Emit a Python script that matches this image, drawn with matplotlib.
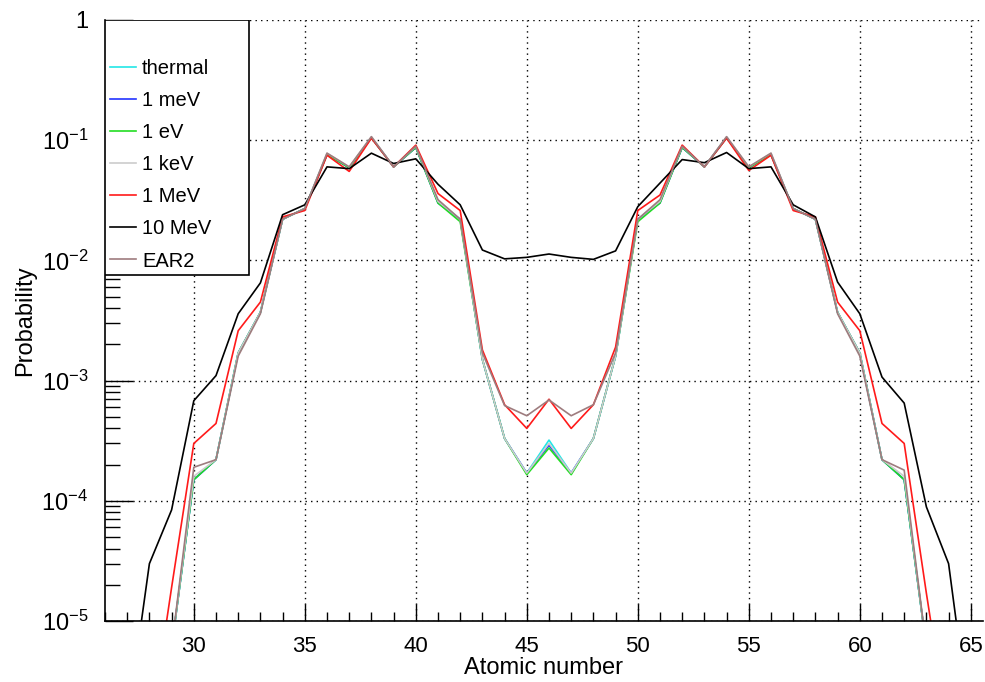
import numpy as np
import matplotlib
matplotlib.use('Agg')
import matplotlib.pyplot as plt
from matplotlib.ticker import LogLocator, MultipleLocator, FuncFormatter, NullFormatter
from matplotlib.patches import Rectangle

plt.rcParams['font.family'] = ['Liberation Sans', 'DejaVu Sans']
plt.rcParams['mathtext.fontset'] = 'custom'
plt.rcParams['mathtext.rm'] = 'Liberation Sans'
plt.rcParams['mathtext.it'] = 'Liberation Sans:italic'

# atomic number of the fragment
z = np.arange(27, 66)

thermal = [3e-8, 4e-7, 6e-6, 1.5e-4, 2.2e-4, 1.7e-3, 3.7e-3, 2.2e-2, 2.7e-2, 7.6e-2,
           5.9e-2, 1.05e-1, 6.0e-2, 8.7e-2, 3.1e-2, 2.2e-2, 1.5e-3, 3.3e-4, 1.7e-4, 3.2e-4,
           1.7e-4, 3.3e-4, 1.6e-3, 2.2e-2, 3.1e-2, 8.7e-2, 6.0e-2, 1.05e-1, 5.9e-2, 7.6e-2,
           2.7e-2, 2.2e-2, 3.7e-3, 1.7e-3, 2.2e-4, 1.5e-4, 6e-6, 4e-7, 3e-8]
mev_1m = [3e-8, 4e-7, 6e-6, 1.5e-4, 2.2e-4, 1.7e-3, 3.7e-3, 2.2e-2, 2.7e-2, 7.6e-2,
          5.9e-2, 1.05e-1, 6.0e-2, 8.7e-2, 3.0e-2, 2.2e-2, 1.5e-3, 3.3e-4, 1.7e-4, 2.9e-4,
          1.7e-4, 3.3e-4, 1.6e-3, 2.2e-2, 3.0e-2, 8.7e-2, 6.0e-2, 1.05e-1, 5.9e-2, 7.6e-2,
          2.7e-2, 2.2e-2, 3.7e-3, 1.7e-3, 2.2e-4, 1.5e-4, 6e-6, 4e-7, 3e-8]
ev_1 = [3e-8, 4e-7, 6e-6, 1.5e-4, 2.2e-4, 1.7e-3, 3.7e-3, 2.2e-2, 2.7e-2, 7.6e-2,
        5.9e-2, 1.05e-1, 6.0e-2, 8.7e-2, 3.0e-2, 2.1e-2, 1.5e-3, 3.3e-4, 1.65e-4, 2.75e-4,
        1.65e-4, 3.3e-4, 1.6e-3, 2.1e-2, 3.0e-2, 8.7e-2, 6.0e-2, 1.05e-1, 5.9e-2, 7.6e-2,
        2.7e-2, 2.2e-2, 3.7e-3, 1.7e-3, 2.2e-4, 1.5e-4, 6e-6, 4e-7, 3e-8]
kev_1 = [3e-8, 4e-7, 6e-6, 1.6e-4, 2.2e-4, 1.7e-3, 3.7e-3, 2.2e-2, 2.7e-2, 7.8e-2,
         6.0e-2, 1.07e-1, 6.0e-2, 8.9e-2, 3.1e-2, 2.2e-2, 1.5e-3, 3.3e-4, 1.7e-4, 3.0e-4,
         1.7e-4, 3.3e-4, 1.6e-3, 2.2e-2, 3.1e-2, 8.9e-2, 6.0e-2, 1.07e-1, 6.0e-2, 7.8e-2,
         2.7e-2, 2.2e-2, 3.7e-3, 1.7e-3, 2.2e-4, 1.6e-4, 6e-6, 4e-7, 3e-8]
mev_1 = [1e-8, 1.1e-6, 1.9e-5, 3.0e-4, 4.4e-4, 2.6e-3, 4.5e-3, 2.3e-2, 2.6e-2, 7.5e-2,
         5.5e-2, 1.04e-1, 6.0e-2, 9.1e-2, 3.6e-2, 2.6e-2, 1.8e-3, 6.3e-4, 4.0e-4, 7.0e-4,
         4.0e-4, 6.3e-4, 1.9e-3, 2.6e-2, 3.5e-2, 9.1e-2, 6.0e-2, 1.04e-1, 5.6e-2, 7.5e-2,
         2.6e-2, 2.3e-2, 4.5e-3, 2.6e-3, 4.4e-4, 3.0e-4, 1.7e-5, 1.1e-6, 1e-8]
mev_10 = [1.4e-6, 3.0e-5, 8.4e-5, 6.8e-4, 1.1e-3, 3.6e-3, 6.5e-3, 2.4e-2, 2.9e-2, 6.0e-2,
          5.8e-2, 7.8e-2, 6.4e-2, 7.0e-2, 4.3e-2, 2.9e-2, 1.22e-2, 1.03e-2, 1.06e-2, 1.13e-2,
          1.06e-2, 1.02e-2, 1.2e-2, 2.8e-2, 4.4e-2, 6.9e-2, 6.5e-2, 7.9e-2, 5.8e-2, 6.0e-2,
          2.9e-2, 2.3e-2, 6.6e-3, 3.6e-3, 1.07e-3, 6.5e-4, 8.9e-5, 3.0e-5, 1.2e-6]
ear2 = [3e-8, 4e-7, 6e-6, 1.9e-4, 2.2e-4, 1.6e-3, 3.6e-3, 2.2e-2, 2.7e-2, 7.8e-2,
        6.0e-2, 1.07e-1, 6.0e-2, 8.9e-2, 3.2e-2, 2.2e-2, 1.7e-3, 6.2e-4, 5.1e-4, 6.9e-4,
        5.1e-4, 6.3e-4, 1.7e-3, 2.2e-2, 3.2e-2, 8.9e-2, 6.0e-2, 1.07e-1, 6.0e-2, 7.8e-2,
        2.7e-2, 2.2e-2, 3.6e-3, 1.6e-3, 2.2e-4, 1.8e-4, 6e-6, 4e-7, 3e-8]

series = [thermal, mev_1m, ev_1, kev_1, mev_1, mev_10, ear2]
labels = ['thermal', '1 meV', '1 eV', '1 keV', '1 MeV', '10 MeV', 'EAR2']
colors = ['#22e6e6', '#2233ff', '#22dd22', '#cccccc', '#ff1a1a', '#000000', '#9e7c7e']

fig = plt.figure(figsize=(9.85, 6.82), dpi=100)
ax = fig.add_axes([105 / 985, 61 / 682, 878 / 985, 601 / 682])

for y, lab, c in zip(series, labels, colors):
    ax.plot(z, y, color=c, lw=1.2, label=lab)

ax.set_yscale('log')
ax.set_xlim(26, 65.55)
ax.set_ylim(1e-5, 1)

ax.xaxis.set_major_locator(MultipleLocator(5))
ax.xaxis.set_minor_locator(MultipleLocator(1))
ax.yaxis.set_major_locator(LogLocator(base=10, numticks=10))
ax.yaxis.set_minor_locator(LogLocator(base=10, subs=np.arange(2, 10), numticks=20))
ax.yaxis.set_minor_formatter(NullFormatter())
ax.yaxis.set_major_formatter(FuncFormatter(
    lambda v, p: '1' if abs(v - 1) < 1e-9 else r'$10^{%d}$' % round(np.log10(v))))

ax.tick_params(axis='x', which='major', direction='in', length=12, width=1, pad=11, labelsize=16)
ax.tick_params(axis='x', which='minor', direction='in', length=6.5, width=1)
ax.tick_params(axis='y', which='major', direction='in', length=20, width=1, pad=12, labelsize=17)
ax.tick_params(axis='y', which='minor', direction='in', length=11, width=1)

ax.spines['top'].set_visible(False)
ax.spines['right'].set_visible(False)
ax.spines['left'].set_linewidth(1.2)
ax.spines['bottom'].set_linewidth(1.2)

ax.grid(True, which='major', color='black', linestyle=(0, (1, 3)), linewidth=1)

ax.set_xlabel('Atomic number', fontsize=17, labelpad=0)
ax.set_ylabel('Probability', fontsize=17, labelpad=4)

# legend box (fixed size, ROOT-like)
box = Rectangle((0, (621 - 275) / 601), 144 / 878, 255 / 601, transform=ax.transAxes,
                facecolor='white', edgecolor='black', lw=1.2, zorder=5)
ax.add_patch(box)
leg = ax.legend(loc='upper left', bbox_to_anchor=(5 / 878, (621 - 59) / 601), frameon=False,
                fontsize=14.5, handlelength=1.3, handletextpad=0.3, labelspacing=0.65,
                borderaxespad=0, borderpad=0)
leg.set_zorder(6)

fig.savefig('out.png', dpi=100)
